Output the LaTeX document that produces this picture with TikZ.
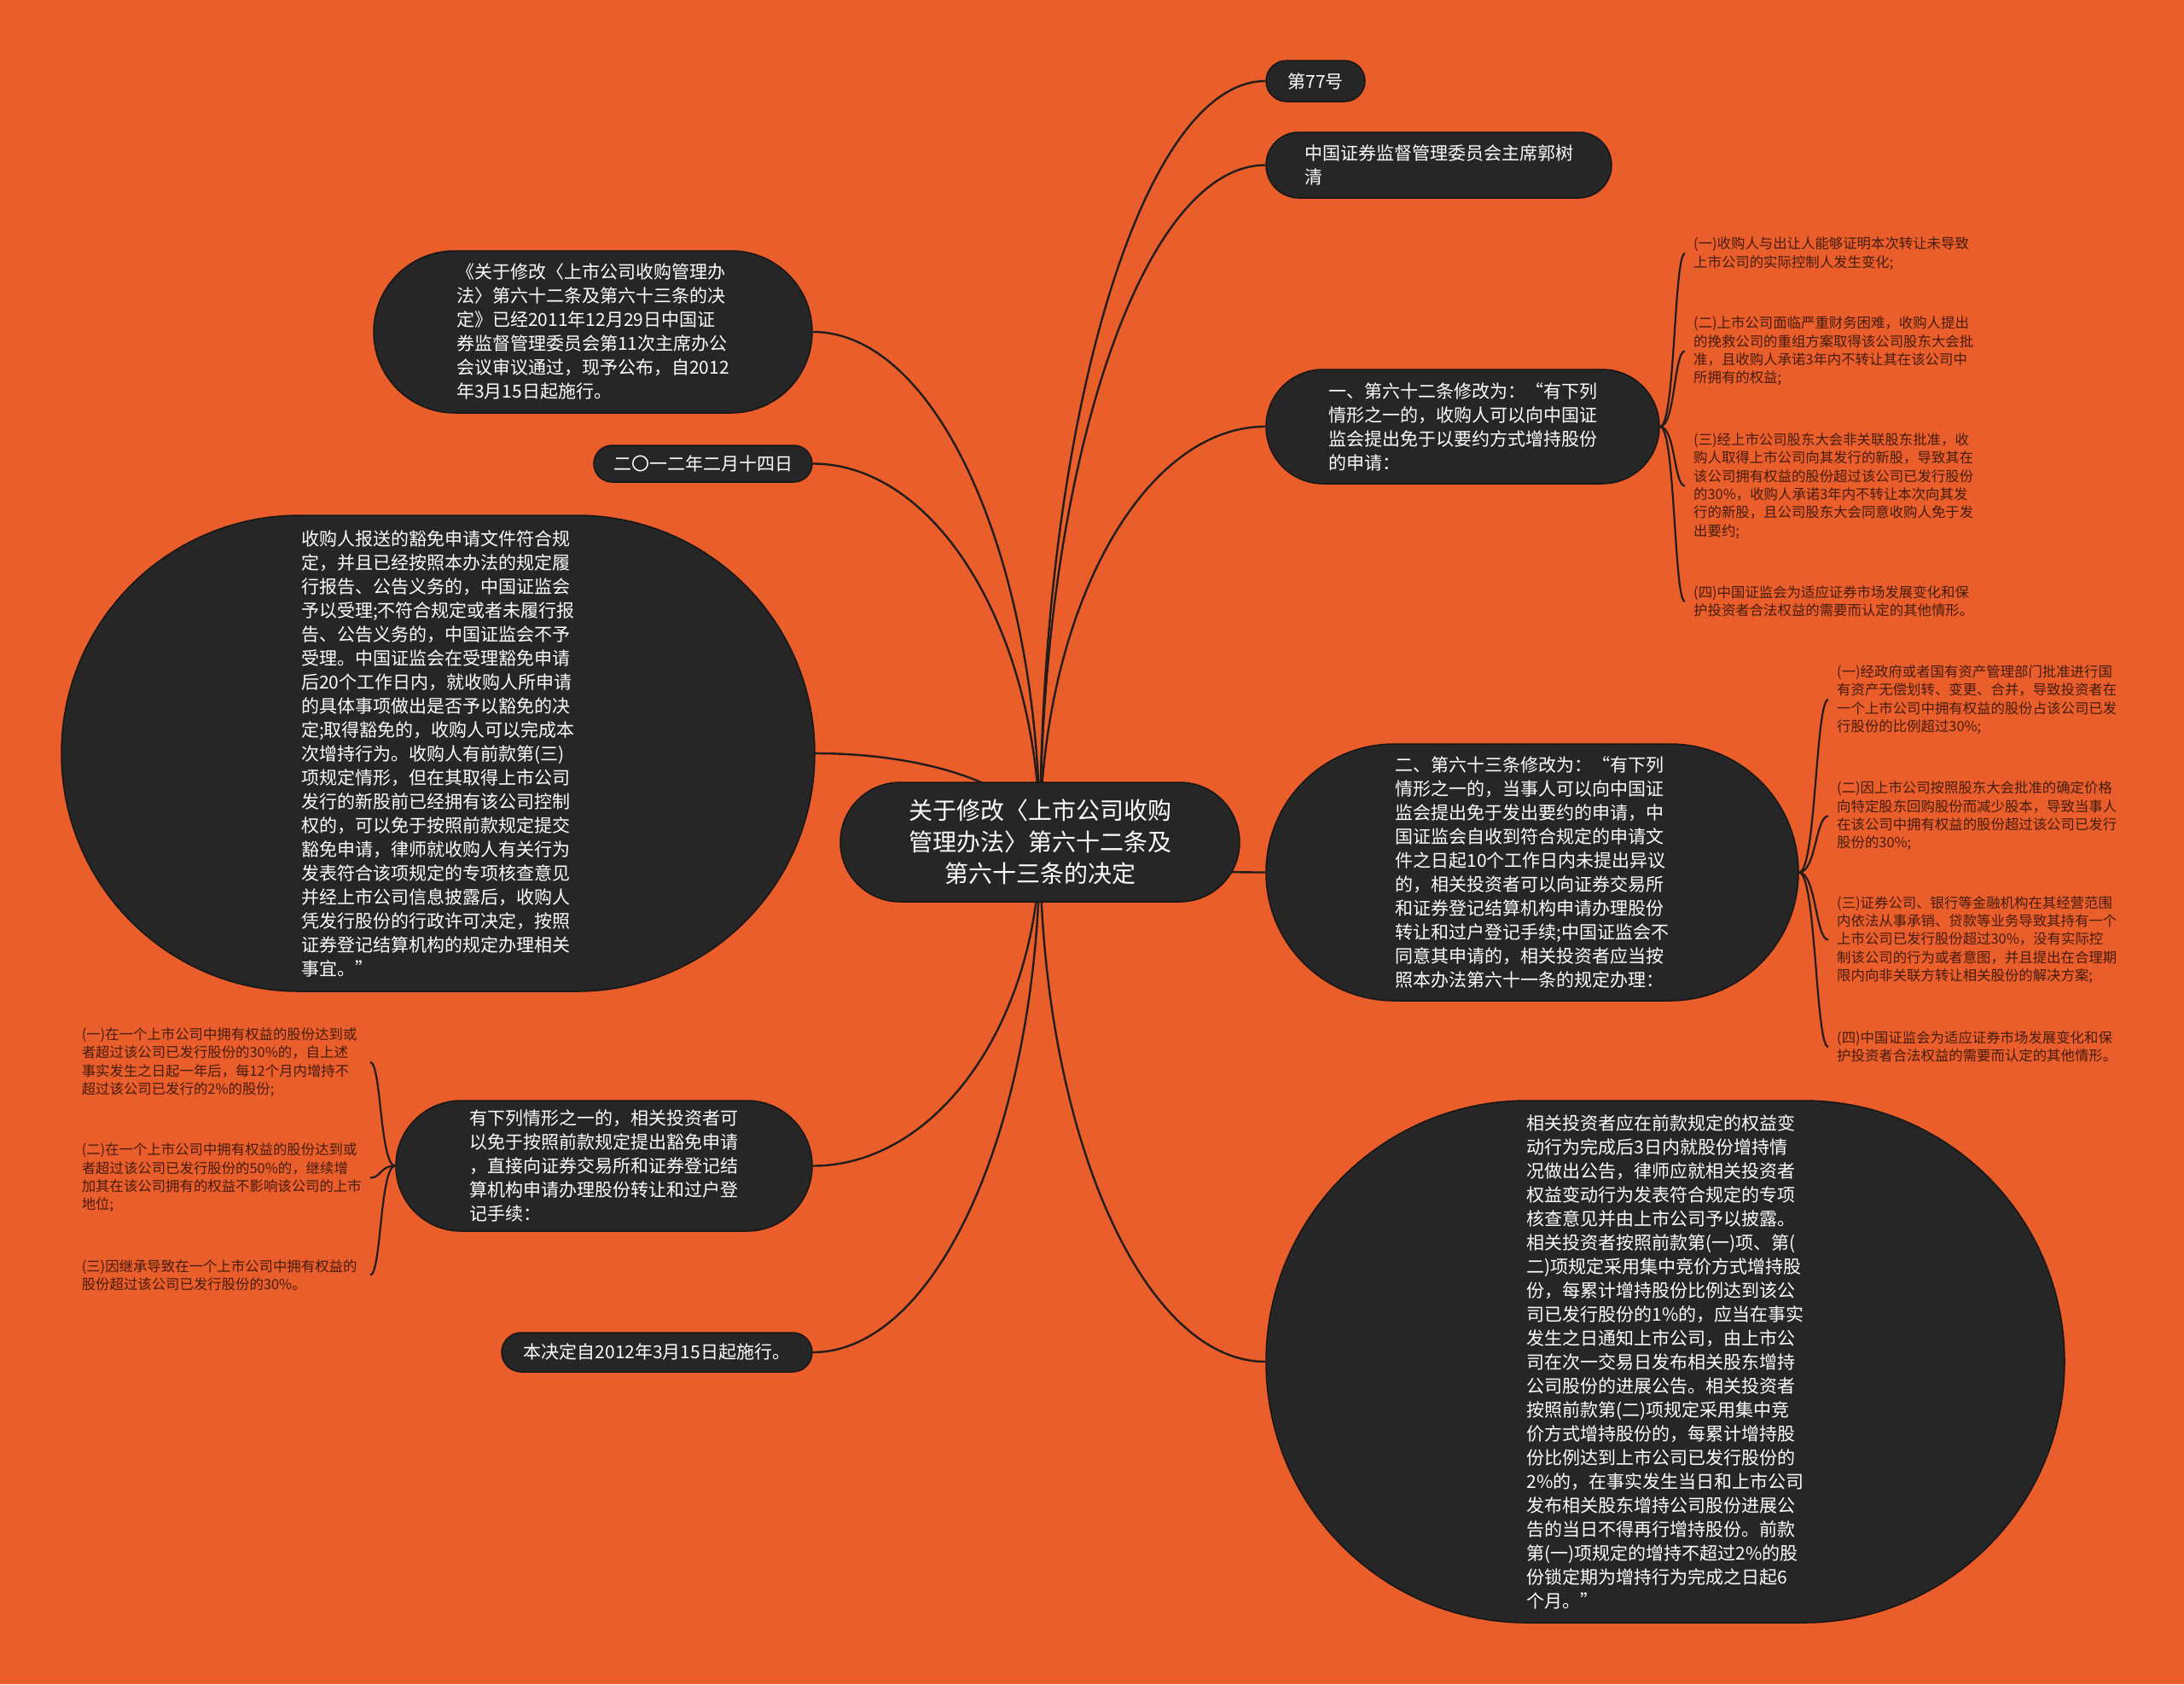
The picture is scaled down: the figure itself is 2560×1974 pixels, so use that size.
\documentclass[tikz,border=0pt]{standalone}
\usepackage{fontspec}
\setmainfont{Noto Sans CJK SC}
\usetikzlibrary{calc}
\definecolor{bgorange}{HTML}{E95E2B}
\definecolor{nodefill}{HTML}{262626}
\definecolor{nodeedge}{HTML}{161616}
\definecolor{linkcol}{HTML}{221D1A}
\definecolor{leafcol}{HTML}{461C0D}
\pgfdeclarelayer{back}
\pgfdeclarelayer{links}
\pgfsetlayers{back,links,main}
\newcommand\mmlink[2]{\draw[link] (#1) .. controls ($(#1)!0.55!(#1|-#2)$) and ($(#2)!0.55!(#1|-#2)$) .. (#2);}
\begin{document}
\begin{tikzpicture}[x=1pt,y=-1pt,
  mnode/.style={fill=nodefill, draw=nodeedge, line width=1.5pt, text=white,
    font=\fontsize{21}{28}\selectfont, align=left, inner sep=0pt},
  link/.style={draw=linkcol, line width=2.4pt},
  brace/.style={draw=linkcol, line width=2.2pt},
  leafr/.style={anchor=west, text=leafcol, font=\fontsize{16.4}{21.3}\selectfont,
    align=left, text width=330pt, inner xsep=10pt, inner ysep=2pt},
  leafl/.style={leafr, anchor=east, inner xsep=8pt}]
\useasboundingbox (0,0) rectangle (2560,1974);
\begin{pgfonlayer}{back}
  \fill[bgorange] (0,0) rectangle (2560,1974);
\end{pgfonlayer}

% root
\node[mnode, minimum width=468pt, minimum height=140pt, rounded corners=70pt,
  align=center, font=\fontsize{28}{37}\selectfont] (r) at (1219,987)
  {关于修改〈上市公司收购\\管理办法〉第六十二条及\\第六十三条的决定};

% right side
\node[mnode, minimum width=116pt, minimum height=48pt, rounded corners=24pt] (a) at (1542,95) {第77号};
\node[mnode, minimum width=405pt, minimum height=77pt, rounded corners=38.5pt] (b) at (1686.5,193.5)
  {中国证券监督管理委员会主席郭树\\清};
\node[mnode, minimum width=461pt, minimum height=134pt, rounded corners=67pt] (c) at (1714.5,500)
  {一、第六十二条修改为：“有下列\\情形之一的，收购人可以向中国证\\监会提出免于以要约方式增持股份\\的申请：};
\node[mnode, minimum width=624pt, minimum height=301pt, rounded corners=150.5pt] (d) at (1796,1022.5)
  {二、第六十三条修改为：“有下列\\情形之一的，当事人可以向中国证\\监会提出免于发出要约的申请，中\\国证监会自收到符合规定的申请文\\件之日起10个工作日内未提出异议\\的，相关投资者可以向证券交易所\\和证券登记结算机构申请办理股份\\转让和过户登记手续;中国证监会不\\同意其申请的，相关投资者应当按\\照本办法第六十一条的规定办理：};
\node[mnode, minimum width=936pt, minimum height=612pt, rounded corners=306pt] (e) at (1952,1596)
  {相关投资者应在前款规定的权益变\\动行为完成后3日内就股份增持情\\况做出公告，律师应就相关投资者\\权益变动行为发表符合规定的专项\\核查意见并由上市公司予以披露。\\相关投资者按照前款第(一)项、第(\\二)项规定采用集中竞价方式增持股\\份，每累计增持股份比例达到该公\\司已发行股份的1\%的，应当在事实\\发生之日通知上市公司，由上市公\\司在次一交易日发布相关股东增持\\公司股份的进展公告。相关投资者\\按照前款第(二)项规定采用集中竞\\价方式增持股份的，每累计增持股\\份比例达到上市公司已发行股份的\\2\%的，在事实发生当日和上市公司\\发布相关股东增持公司股份进展公\\告的当日不得再行增持股份。前款\\第(一)项规定的增持不超过2\%的股\\份锁定期为增持行为完成之日起6\\个月。”};

% left side
\node[mnode, minimum width=514pt, minimum height=190pt, rounded corners=95pt] (f) at (695,389)
  {《关于修改〈上市公司收购管理办\\法〉第六十二条及第六十三条的决\\定》已经2011年12月29日中国证\\券监督管理委员会第11次主席办公\\会议审议通过，现予公布，自2012\\年3月15日起施行。};
\node[mnode, minimum width=256pt, minimum height=43pt, rounded corners=21.5pt] (g) at (824,543.5)
  {二〇一二年二月十四日};
\node[mnode, minimum width=883pt, minimum height=558pt, rounded corners=279pt] (h) at (513.5,883)
  {收购人报送的豁免申请文件符合规\\定，并且已经按照本办法的规定履\\行报告、公告义务的，中国证监会\\予以受理;不符合规定或者未履行报\\告、公告义务的，中国证监会不予\\受理。中国证监会在受理豁免申请\\后20个工作日内，就收购人所申请\\的具体事项做出是否予以豁免的决\\定;取得豁免的，收购人可以完成本\\次增持行为。收购人有前款第(三)\\项规定情形，但在其取得上市公司\\发行的新股前已经拥有该公司控制\\权的，可以免于按照前款规定提交\\豁免申请，律师就收购人有关行为\\发表符合该项规定的专项核查意见\\并经上市公司信息披露后，收购人\\凭发行股份的行政许可决定，按照\\证券登记结算机构的规定办理相关\\事宜。”};
\node[mnode, minimum width=488pt, minimum height=153pt, rounded corners=76.5pt] (i) at (708,1366.5)
  {有下列情形之一的，相关投资者可\\以免于按照前款规定提出豁免申请\\，直接向证券交易所和证券登记结\\算机构申请办理股份转让和过户登\\记手续：};
\node[mnode, minimum width=364pt, minimum height=46pt, rounded corners=23pt] (j) at (770,1585)
  {本决定自2012年3月15日起施行。};

% leaves of c
\node[leafr] (c1) at (1975,297) {(一)收购人与出让人能够证明本次转让未导致\\上市公司的实际控制人发生变化;};
\node[leafr] (c2) at (1975,411.5) {(二)上市公司面临严重财务困难，收购人提出\\的挽救公司的重组方案取得该公司股东大会批\\准，且收购人承诺3年内不转让其在该公司中\\所拥有的权益;};
\node[leafr] (c3) at (1975,569.5) {(三)经上市公司股东大会非关联股东批准，收\\购人取得上市公司向其发行的新股，导致其在\\该公司拥有权益的股份超过该公司已发行股份\\的30\%，收购人承诺3年内不转让本次向其发\\行的新股，且公司股东大会同意收购人免于发\\出要约;};
\node[leafr] (c4) at (1975,705) {(四)中国证监会为适应证券市场发展变化和保\\护投资者合法权益的需要而认定的其他情形。};

% leaves of d
\node[leafr] (d1) at (2143,820) {(一)经政府或者国有资产管理部门批准进行国\\有资产无偿划转、变更、合并，导致投资者在\\一个上市公司中拥有权益的股份占该公司已发\\行股份的比例超过30\%;};
\node[leafr] (d2) at (2143,956.5) {(二)因上市公司按照股东大会批准的确定价格\\向特定股东回购股份而减少股本，导致当事人\\在该公司中拥有权益的股份超过该公司已发行\\股份的30\%;};
\node[leafr] (d3) at (2143,1101.5) {(三)证券公司、银行等金融机构在其经营范围\\内依法从事承销、贷款等业务导致其持有一个\\上市公司已发行股份超过30\%，没有实际控\\制该公司的行为或者意图，并且提出在合理期\\限内向非关联方转让相关股份的解决方案;};
\node[leafr] (d4) at (2143,1227) {(四)中国证监会为适应证券市场发展变化和保\\护投资者合法权益的需要而认定的其他情形。};

% leaves of i
\node[leafl] (i1) at (434,1245) {(一)在一个上市公司中拥有权益的股份达到或\\者超过该公司已发行股份的30\%的，自上述\\事实发生之日起一年后，每12个月内增持不\\超过该公司已发行的2\%的股份;};
\node[leafl] (i2) at (434,1380.5) {(二)在一个上市公司中拥有权益的股份达到或\\者超过该公司已发行股份的50\%的，继续增\\加其在该公司拥有的权益不影响该公司的上市\\地位;};
\node[leafl] (i3) at (434,1494.5) {(三)因继承导致在一个上市公司中拥有权益的\\股份超过该公司已发行股份的30\%。};

\begin{pgfonlayer}{links}
  \mmlink{r.center}{a.west}
  \mmlink{r.center}{b.west}
  \mmlink{r.center}{c.west}
  \mmlink{r.center}{d.west}
  \mmlink{r.center}{e.west}
  \mmlink{r.center}{f.east}
  \mmlink{r.center}{g.east}
  \mmlink{r.center}{h.east}
  \mmlink{r.center}{i.east}
  \mmlink{r.center}{j.east}
  \foreach \k in {c1,c2,c3,c4}{\draw[brace] (c.east) .. controls +(18,0) and +(-13,0) .. (\k.west);}
  \foreach \k in {d1,d2,d3,d4}{\draw[brace] (d.east) .. controls +(20,0) and +(-15,0) .. (\k.west);}
  \foreach \k in {i1,i2,i3}{\draw[brace] (i.west) .. controls +(-18,0) and +(13,0) .. (\k.east);}
\end{pgfonlayer}
\end{tikzpicture}
\end{document}
